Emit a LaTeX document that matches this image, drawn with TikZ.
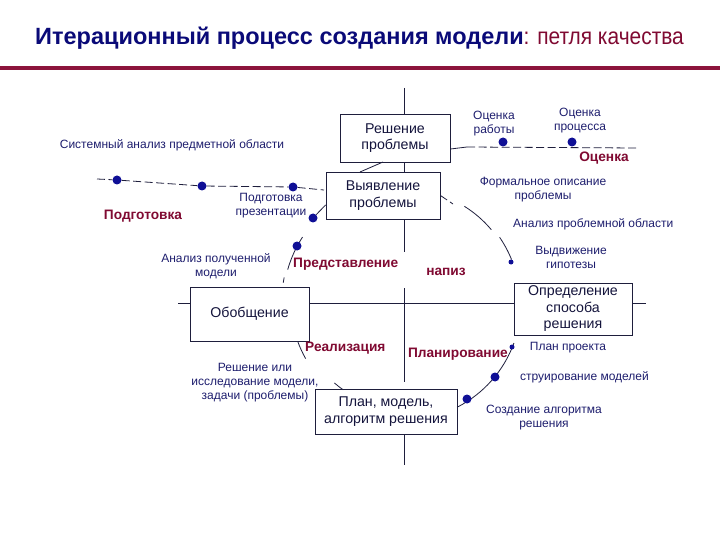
\documentclass[tikz,border=0pt]{standalone}
\usepackage{fontspec}
\setmainfont{Liberation Sans}
\definecolor{titlecol}{RGB}{10,10,120}
\definecolor{redcol}{RGB}{128,10,50}
\definecolor{rulecol}{RGB}{140,20,60}
\definecolor{labcol}{RGB}{30,30,110}
\definecolor{boxtxt}{RGB}{20,20,60}
\definecolor{lncol}{RGB}{30,30,60}
\definecolor{dotcol}{RGB}{15,15,150}
\begin{document}
\begin{tikzpicture}[x=1pt,y=-1pt,
  ln/.style={draw=lncol, line width=0.8pt},
  dsh/.style={draw=lncol, line width=0.8pt, dash pattern=on 8pt off 3.5pt},
  box/.style={draw=lncol, line width=0.9pt, fill=white, align=center, text=boxtxt,
    font=\fontsize{14.2}{16.5}\selectfont, inner sep=0pt},
  lab/.style={text=labcol, align=center, font=\fontsize{12}{14}\selectfont, inner sep=1pt},
  stage/.style={text=redcol, font=\bfseries\fontsize{13.7}{16}\selectfont, inner sep=1pt},
  dot/.style={circle, fill=dotcol, inner sep=0pt, minimum size=9pt},
  hdot/.style={circle, fill=dotcol, inner sep=0pt, minimum size=5pt},
]
\useasboundingbox[fill=white] (0,0) rectangle (720,540);

% title
\node[anchor=base west, inner sep=0pt] (title) at (35,45)
  {\fontsize{23.5}{28}\selectfont\textcolor{titlecol}{\bfseries Итерационный процесс создания модели}\textcolor{redcol}{\scalebox{0.89}[1]{: петля качества}}};
\coordinate (rl) at (0,68);
\coordinate (rr) at (720,68);
\draw[draw=rulecol, line width=4pt] (rl) -- (rr);

% centre of loop
\coordinate (C) at (404,303);

% main cross lines
\coordinate (vtop) at (404,88);
\coordinate (v1) at (404,252);
\coordinate (v2) at (404,288);
\coordinate (v3) at (404,382);
\coordinate (vbot) at (404,465);
\coordinate (hl) at (178,303);
\coordinate (hr) at (646,303);

% boxes
\node[box, minimum width=110pt, minimum height=48pt] (resh) at (395,138) {Решение\\проблемы};
\node[box, minimum width=114pt, minimum height=47pt] (vyav) at (383,195.5) {Выявление\\проблемы};
\node[box, minimum width=119pt, minimum height=54pt] (obob) at (249.5,314) {Обобщение};
\node[box, minimum width=118pt, minimum height=52pt] (opr) at (573,309) {Определение\\способа\\решения};
\node[box, minimum width=142pt, minimum height=45pt] (plan) at (386,411.5) {План, модель,\\алгоритм решения};

\draw[ln] (vtop) -- (vtop |- resh.north);
\draw[ln] (resh.south -| vtop) -- (vyav.north -| vtop);
\draw[ln] (vyav.south -| vtop) -- (v1);
\draw[ln] (v2) -- (v3);
\draw[ln] (plan.south -| vtop) -- (vbot);
\draw[ln] (hl) -- (obob.west |- hl);
\draw[ln] (obob.east |- hl) -- (opr.west |- hl);
\draw[ln] (opr.east |- hl) -- (hr);
\draw[ln] (383,162) -- (360,172);

% top-right dashed line (Оценка)
\coordinate (o1) at (467,147);
\coordinate (oend) at (637,148);
\draw[ln] (resh.east |- 0,149) -- (o1);
\draw[dsh] (o1) -- (oend);
\node[dot] (d1) at (503,142) {};
\node[dot] (d2) at (572,142) {};
\node[lab] (l1) at (494,124) {Оценка\\работы};
\node[lab] (l2) at (580,121) {Оценка\\процесса};
\node[stage] (s1) at (604,158) {Оценка};

% left dashed line (Подготовка)
\coordinate (p0) at (97,179);
\coordinate (p4) at (324,190);
\node[dot] (d3) at (117,180) {};
\node[dot] (d4) at (202,186) {};
\node[dot] (d5) at (293,187) {};
\draw[dsh] (p0) -- (d3) -- (d4) -- (d5) -- (p4);
\node[dot] (d6) at (313,218) {};
\draw[ln] (d6) -- (vyav.west |- 0,205);
\node[lab] (l3) at (172,145) {Системный анализ предметной области};
\node[lab] (l4) at (271,206) {Подготовка\\презентации};
\node[stage] (s2) at (143,216) {Подготовка};

% upper-left arc (Представление)
\draw[ln] (C) ++(-147:121) arc[start angle=-147, end angle=-164, radius=121];
\draw[ln] (C) ++(-168:122.5) arc[start angle=-168, end angle=-170.5, radius=122.5];
\node[dot] (d7) at (297,246) {};
\node[lab] (l5) at (216,266) {Анализ полученной\\модели};
\node[stage, anchor=west] (s3) at (292,264) {Представление};

% upper-right arcs (Анализ)
\draw[dsh] (vyav.east) -- (453,204);
\draw[ln] (C) ++(-58:114) arc[start angle=-58, end angle=-40, radius=114];
\draw[ln] (C) ++(-34.5:116) arc[start angle=-34.5, end angle=-22, radius=116];
\node[hdot] (d8) at (511,262) {};
\node[stage] (s4) at (446,272) {напиз};
\node[lab] (l6) at (543,190) {Формальное описание\\проблемы};
\node[lab, anchor=west] (l7) at (512,224) {Анализ проблемной области};
\node[lab] (l8) at (571,257) {Выдвижение\\гипотезы};

% lower-right arc (Планирование)
\draw[ln] (C) ++(20:117) arc[start angle=20, end angle=63, radius=117];
\node[hdot] (d9) at (512,347) {};
\node[dot] (d10) at (495,377) {};
\node[dot] (d11) at (467,399) {};
\node[stage, anchor=east] (s5) at (509,354) {Планирование};
\node[lab] (l9) at (568,348) {План проекта};
\node[lab, anchor=west] (l10) at (519,377) {струирование моделей};
\node[lab] (l11) at (544,418) {Создание алгоритма\\решения};

% lower-left arcs (Реализация)
\draw[ln] (C) ++(160:113) arc[start angle=160, end angle=150.5, radius=113];
\draw[ln] (C) ++(131:106) arc[start angle=131, end angle=125, radius=106];
\node[stage, anchor=west] (s6) at (304,348) {Реализация};
\node[lab] (l12) at (255,383) {Решение или\\исследование модели,\\задачи (проблемы)};
\end{tikzpicture}
\end{document}
